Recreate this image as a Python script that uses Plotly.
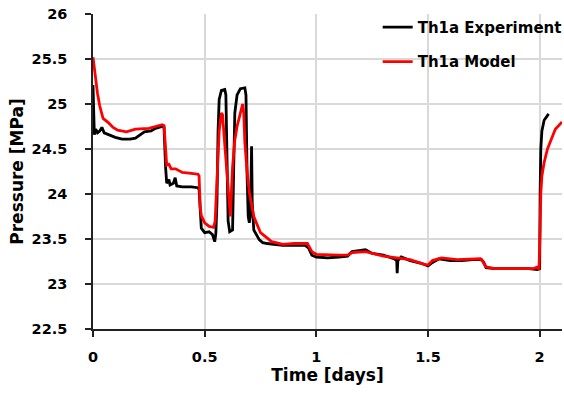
import plotly.graph_objects as go

# Th1a Experiment (time in days, pressure in MPa)
t_exp = [0, 0.003, 0.006, 0.012, 0.02, 0.03, 0.04, 0.05, 0.07, 0.1, 0.13, 0.166, 0.19, 0.21, 0.23,
         0.26, 0.28, 0.31, 0.318, 0.325, 0.33, 0.34, 0.345, 0.36, 0.368, 0.375, 0.40, 0.44, 0.47,
         0.475, 0.48, 0.485, 0.50, 0.52, 0.535, 0.545, 0.55, 0.555, 0.56, 0.565, 0.575, 0.59, 0.595,
         0.60, 0.605, 0.612, 0.625, 0.63, 0.635, 0.645, 0.66, 0.68, 0.685, 0.69, 0.695, 0.70, 0.705,
         0.71, 0.713, 0.72, 0.73, 0.745, 0.76, 0.78, 0.85, 0.9, 0.95, 0.965, 0.98, 1.0, 1.05, 1.1,
         1.14, 1.16, 1.19, 1.22, 1.25, 1.3, 1.35, 1.36, 1.362, 1.365, 1.38, 1.42, 1.47, 1.5, 1.52,
         1.55, 1.6, 1.65, 1.7, 1.74, 1.75, 1.76, 1.8, 1.9, 1.95, 1.99, 2.0, 2.002, 2.005, 2.01,
         2.02, 2.04]
p_exp = [25.21, 24.9, 24.66, 24.72, 24.68, 24.70, 24.74, 24.68, 24.66, 24.63, 24.61, 24.61, 24.62,
         24.66, 24.69, 24.70, 24.73, 24.75, 24.74, 24.30, 24.12, 24.16, 24.10, 24.12, 24.18, 24.09,
         24.08, 24.08, 24.07, 24.05, 23.75, 23.62, 23.57, 23.58, 23.55, 23.47, 23.56, 23.90, 24.70,
         25.05, 25.15, 25.16, 25.10, 24.30, 23.70, 23.58, 23.60, 24.30, 24.90, 25.10, 25.17, 25.18,
         25.10, 24.20, 23.75, 23.68, 23.78, 24.53, 23.90, 23.60, 23.55, 23.49, 23.46, 23.45, 23.43,
         23.43, 23.43, 23.40, 23.32, 23.30, 23.29, 23.30, 23.31, 23.36, 23.37, 23.38, 23.34, 23.32,
         23.28, 23.26, 23.12, 23.26, 23.30, 23.26, 23.23, 23.20, 23.24, 23.28, 23.26, 23.26, 23.27,
         23.27, 23.24, 23.18, 23.17, 23.17, 23.17, 23.16, 23.17, 24.00, 24.50, 24.70, 24.82, 24.89]

# Th1a Model
t_model = [0, 0.005, 0.01, 0.02, 0.03, 0.045, 0.07, 0.09, 0.11, 0.15, 0.19, 0.25, 0.28, 0.31, 0.318,
           0.325, 0.33, 0.34, 0.35, 0.37, 0.40, 0.44, 0.47, 0.475, 0.48, 0.485, 0.50, 0.52, 0.54,
           0.547, 0.555, 0.565, 0.575, 0.58, 0.59, 0.60, 0.61, 0.615, 0.625, 0.635, 0.645, 0.66,
           0.67, 0.675, 0.68, 0.69, 0.70, 0.72, 0.75, 0.8, 0.85, 0.9, 0.96, 0.98, 1.0, 1.1, 1.14,
           1.16, 1.22, 1.3, 1.36, 1.42, 1.48, 1.5, 1.52, 1.56, 1.63, 1.735, 1.745, 1.76, 1.8, 1.9,
           1.97, 1.99, 1.997, 2.002, 2.005, 2.01, 2.02, 2.035, 2.05, 2.07, 2.1]
p_model = [25.52, 25.40, 25.28, 25.12, 24.98, 24.84, 24.79, 24.74, 24.71, 24.69, 24.72, 24.73, 24.75,
           24.77, 24.76, 24.45, 24.32, 24.33, 24.28, 24.28, 24.24, 24.23, 24.22, 24.20, 23.85, 23.76,
           23.68, 23.64, 23.63, 23.70, 24.15, 24.70, 24.90, 24.88, 24.55, 24.19, 23.85, 23.75, 24.30,
           24.60, 24.75, 24.92, 25.00, 24.90, 24.57, 24.25, 24.02, 23.75, 23.57, 23.47, 23.44, 23.45,
           23.45, 23.36, 23.33, 23.32, 23.32, 23.35, 23.36, 23.31, 23.29, 23.27, 23.22, 23.21, 23.26,
           23.29, 23.27, 23.28, 23.25, 23.19, 23.17, 23.17, 23.17, 23.19, 23.16, 23.60, 24.00, 24.20,
           24.35, 24.50, 24.60, 24.72, 24.80]

x_ticks = [0, 0.5, 1, 1.5, 2]
x_tick_text = ["0", "0.5", "1", "1.5", "2"]
y_ticks = [22.5, 23, 23.5, 24, 24.5, 25, 25.5, 26]
y_tick_text = ["22.5", "23", "23.5", "24", "24.5", "25", "25.5", "26"]

FONT = "DejaVu Sans"

fig = go.Figure()
fig.add_trace(go.Scatter(x=t_exp, y=p_exp, mode="lines", name="Th1a Experiment",
                         line=dict(color="#000000", width=2.8), legendgroup="a"))
fig.add_trace(go.Scatter(x=t_model, y=p_model, mode="lines", name="Th1a Model",
                         line=dict(color="#ff0000", width=2.8), legendgroup="b"))

# white patch behind the legend that hides the gridlines but not the data
fig.add_shape(type="rect", xref="paper", yref="paper", x0=0.59, x1=1.0, y0=0.8, y1=1.0,
              fillcolor="white", line=dict(width=0), layer="between")

fig.update_layout(
    width=564, height=396,
    margin=dict(l=93, r=2, t=14, b=67, autoexpand=False),
    paper_bgcolor="white", plot_bgcolor="white",
    font=dict(family=FONT, color="#000000"),
    showlegend=True,
    legend=dict(x=0.607, xanchor="left", y=1.01, yanchor="top", bgcolor="rgba(0,0,0,0)",
                font=dict(family=FONT, size=15, color="#000000", weight="bold"),
                traceorder="grouped", tracegroupgap=12, itemwidth=30),
    xaxis=dict(range=[0, 2.1], tickvals=x_ticks, ticktext=x_tick_text, automargin=False,
               showgrid=True, gridcolor="#d9d9d9", gridwidth=1.5,
               showline=True, linecolor="#222222", linewidth=1.5,
               ticks="outside", ticklen=6, tickcolor="#222222", tickwidth=1.5,
               ticklabelstandoff=8,
               tickfont=dict(family=FONT, size=14.5, weight="bold"),
               title=dict(text="Time [days]", font=dict(family=FONT, size=17, weight="bold"), standoff=2),
               zeroline=False),
    yaxis=dict(range=[22.5, 26], tickvals=y_ticks, ticktext=y_tick_text, automargin=False,
               showgrid=True, gridcolor="#d9d9d9", gridwidth=1.5,
               showline=True, linecolor="#222222", linewidth=1.5,
               ticks="outside", ticklen=6, tickcolor="#222222", tickwidth=1.5,
               ticklabelstandoff=15,
               tickfont=dict(family=FONT, size=14.5, weight="bold"),
               title=dict(text="Pressure [MPa]", font=dict(family=FONT, size=17, weight="bold"), standoff=4),
               zeroline=False),
)

fig.write_html("out.html", config={"displayModeBar": False},
               post_script="document.body.style.margin='0px';")
